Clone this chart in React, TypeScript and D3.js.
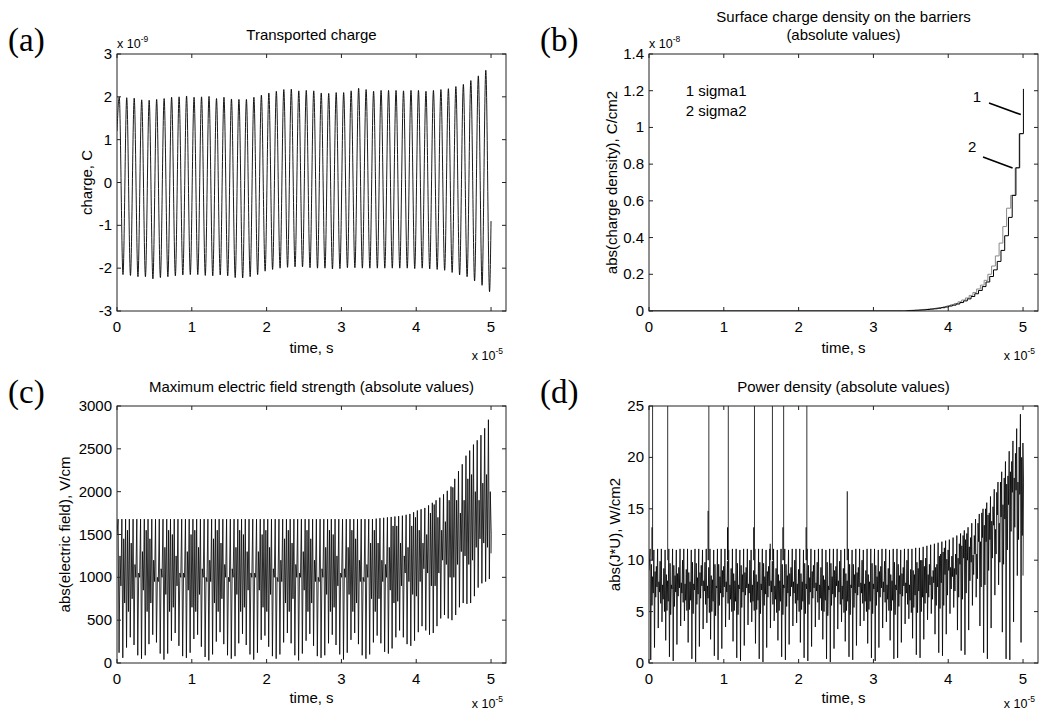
import React from 'react';
import * as d3 from 'd3';

const W = 1042;
const H = 711;
const FONT = '"Liberation Sans", Arial, sans-serif';
const SERIF = '"Liberation Serif", "Times New Roman", serif';

const timeTicks = [0, 1, 2, 3, 4, 5];
const xDomain: [number, number] = [0, 5.2];

// (a) Transported charge (x 1e-9 C): one peak and one trough per 0.1 (x 1e-5 s)
const chargePeriod = 0.1;
const chargePeakPhase = 0.03;
const chargeTroughPhase = 0.08;
const chargeStart = 1.2;
const chargeEnd = -0.9;
const chargePeaks = [
  2.0, 1.98, 1.97, 1.93, 1.92, 1.94, 1.96, 1.99, 2.0, 2.02,
  1.99, 2.0, 2.01, 1.96, 1.99, 1.95, 1.94, 1.94, 1.99, 2.04,
  2.09, 2.13, 2.17, 2.18, 2.14, 2.15, 2.14, 2.09, 2.08, 2.1,
  2.1, 2.14, 2.2, 2.17, 2.13, 2.15, 2.15, 2.15, 2.14, 2.15,
  2.15, 2.13, 2.15, 2.17, 2.19, 2.24, 2.29, 2.38, 2.49, 2.62,
];
const chargeTroughs = [
  -2.15, -2.17, -2.2, -2.2, -2.25, -2.22, -2.2, -2.18, -2.16, -2.15,
  -2.15, -2.17, -2.18, -2.16, -2.18, -2.22, -2.23, -2.2, -2.15, -2.07,
  -2.03, -2.0, -1.98, -1.97, -1.97, -1.99, -2.0, -2.0, -2.02, -2.01,
  -1.99, -1.99, -2.0, -2.0, -2.0, -2.0, -2.0, -2.0, -2.0, -2.01,
  -2.0, -2.02, -2.03, -2.05, -2.1, -2.16, -2.2, -2.3, -2.4, -2.55,
];
const chargeTicks = [-3, -2, -1, 0, 1, 2, 3];

// (b) Surface charge density (x 1e-8 C/cm2), staircases
const sigma1Times = [
  3.4, 3.455, 3.505, 3.555, 3.605, 3.655, 3.705, 3.755, 3.805, 3.855, 3.905,
  3.955, 4.005, 4.055, 4.105, 4.155, 4.205, 4.255, 4.305, 4.355, 4.405, 4.455,
  4.505, 4.555, 4.605, 4.655, 4.705, 4.755, 4.805, 4.855, 4.905, 4.955, 5.005,
];
const sigma1Values = [
  0.0, 0.002, 0.003, 0.004, 0.005, 0.006, 0.008, 0.01, 0.012, 0.015, 0.018,
  0.022, 0.027, 0.032, 0.038, 0.046, 0.055, 0.066, 0.079, 0.094, 0.112, 0.133,
  0.158, 0.188, 0.224, 0.27, 0.33, 0.41, 0.51, 0.63, 0.78, 0.966, 1.21,
];
const sigma2Times = [
  3.4, 3.43, 3.48, 3.53, 3.58, 3.63, 3.68, 3.73, 3.78, 3.83, 3.88,
  3.93, 3.98, 4.03, 4.08, 4.13, 4.18, 4.23, 4.28, 4.33, 4.38, 4.43,
  4.48, 4.53, 4.58, 4.63, 4.68, 4.73, 4.78, 4.835, 4.895, 4.948,
];
const sigma2Values = [
  0.0, 0.002, 0.003, 0.004, 0.005, 0.007, 0.009, 0.011, 0.013, 0.016, 0.019,
  0.023, 0.028, 0.034, 0.041, 0.05, 0.06, 0.071, 0.085, 0.101, 0.12, 0.141,
  0.167, 0.2, 0.245, 0.3, 0.37, 0.46, 0.56, 0.63, 0.78, 0.966,
];
const sigmaEnd = 5.0;
const sigmaTicks = [0, 0.2, 0.4, 0.6, 0.8, 1, 1.2, 1.4];
const sigmaLegend = ['1 sigma1', '2 sigma2'];

// (c) Maximum electric field strength (V/cm): per 0.05 cycle peak, deep trough, second hump, second dip
const fieldPeriod = 0.05;
const fieldPhase = 0.015;
const fieldStart = 1500;
const fieldEnd = 1280;
const fieldPeaks = [
  1680, 1680, 1680, 1680, 1680, 1680, 1680, 1680, 1680, 1680,
  1680, 1680, 1680, 1680, 1680, 1680, 1680, 1680, 1680, 1680,
  1680, 1680, 1680, 1680, 1680, 1680, 1680, 1680, 1680, 1680,
  1680, 1680, 1680, 1680, 1680, 1680, 1680, 1680, 1680, 1680,
  1680, 1680, 1680, 1680, 1680, 1680, 1680, 1680, 1680, 1680,
  1680, 1680, 1680, 1680, 1680, 1680, 1680, 1680, 1680, 1680,
  1680, 1680, 1680, 1680, 1680, 1680, 1680, 1680, 1680, 1685,
  1690, 1695, 1700, 1705, 1710, 1715, 1720, 1730, 1740, 1760,
  1780, 1795, 1810, 1840, 1870, 1900, 1930, 1970, 2010, 2060,
  2150, 2240, 2320, 2420, 2480, 2550, 2600, 2660, 2740, 2840,
];
const fieldTroughs = [
  120, 60, 180, 300, 210, 90, 50, 90, 220, 330,
  240, 110, 40, 110, 260, 350, 200, 80, 60, 120,
  280, 330, 190, 70, 30, 100, 250, 360, 220, 90,
  50, 80, 230, 340, 210, 100, 40, 120, 270, 320,
  190, 80, 50, 100, 240, 350, 230, 90, 30, 110,
  260, 340, 200, 80, 60, 90, 230, 330, 210, 100,
  40, 120, 270, 350, 220, 90, 50, 100, 240, 320,
  230, 130, 110, 170, 300, 380, 300, 220, 200, 260,
  360, 430, 380, 330, 350, 430, 520, 560, 520, 500,
  560, 650, 700, 690, 700, 780, 880, 930, 950, 980,
];
const fieldHumps = [
  1250, 1450, 1550, 1400, 1150, 1050, 1300, 1550, 1450, 1200,
  1000, 1100, 1350, 1550, 1500, 1250, 1050, 1050, 1300, 1500,
  1550, 1350, 1100, 1000, 1200, 1450, 1550, 1400, 1150, 1000,
  1100, 1350, 1550, 1500, 1300, 1050, 1050, 1300, 1500, 1550,
  1350, 1100, 1000, 1200, 1450, 1550, 1400, 1150, 1050, 1300,
  1550, 1450, 1200, 1000, 1100, 1350, 1550, 1500, 1250, 1050,
  1100, 1350, 1550, 1450, 1200, 1000, 1150, 1400, 1550, 1400,
  1200, 1150, 1350, 1600, 1600, 1400, 1250, 1350, 1600, 1700,
  1550, 1400, 1500, 1750, 1850, 1700, 1550, 1650, 1900, 2050,
  1900, 1750, 1900, 2150, 2200, 2000, 1900, 2100, 2200, 2000,
];
const fieldDips = [
  900, 700, 600, 750, 1000, 1000, 850, 600, 700, 950,
  950, 1000, 800, 600, 650, 900, 1000, 1000, 850, 650,
  600, 800, 1000, 950, 950, 700, 600, 750, 1000, 950,
  1000, 800, 600, 650, 850, 1000, 1000, 850, 650, 600,
  800, 1000, 950, 950, 700, 600, 750, 1000, 1000, 850,
  600, 700, 950, 950, 1000, 800, 600, 650, 900, 1000,
  1000, 800, 600, 700, 950, 950, 1000, 750, 600, 750,
  950, 1000, 850, 700, 720, 900, 1050, 950, 800, 780,
  950, 1100, 1050, 900, 900, 1050, 1200, 1150, 1000, 1000,
  1150, 1300, 1250, 1150, 1200, 1350, 1450, 1400, 1350, 1500,
];
const fieldTicks = [0, 500, 1000, 1500, 2000, 2500, 3000];

// (d) Power density (W/cm2): six turning points per 0.05 cycle
const powerPeriod = 0.05;
const powerPhase = 0.015;
const powerStart = 9;
const powerEnd = 8.5;
const powerPeaks = [
  11.1, 11.0, 11.1, 11.1, 11.0, 11.1, 11.1, 11.0, 11.1, 11.1,
  11.1, 11.0, 11.1, 11.1, 11.0, 11.1, 11.1, 11.0, 11.1, 11.1,
  11.1, 11.0, 11.1, 11.1, 11.0, 11.1, 11.1, 11.0, 11.1, 11.1,
  11.1, 11.0, 11.1, 11.1, 11.0, 11.1, 11.1, 11.0, 11.1, 11.1,
  11.1, 11.0, 11.1, 11.1, 11.0, 11.1, 11.1, 11.0, 11.1, 11.1,
  11.1, 11.0, 11.1, 11.1, 11.0, 11.1, 11.1, 11.0, 11.1, 11.1,
  11.1, 11.0, 11.1, 11.1, 11.0, 11.1, 11.1, 11.0, 11.1, 11.1,
  11.1, 11.2, 11.2, 11.3, 11.4, 11.5, 11.6, 11.7, 11.8, 11.9,
  12.0, 12.2, 12.4, 12.6, 12.9, 13.2, 13.6, 14.0, 14.5, 15.0,
  15.6, 16.2, 16.9, 17.6, 18.6, 19.6, 20.6, 21.6, 22.8, 24.2,
];
const powerLows = [
  0.3, 1.5, 3.4, 4.0, 2.2, 0.6, 0.2, 1.8, 3.6, 4.1,
  2.0, 0.4, 0.1, 1.6, 3.3, 3.9, 2.3, 0.7, 0.3, 1.4,
  3.5, 4.2, 2.1, 0.5, 0.2, 1.7, 3.7, 4.0, 1.9, 0.4,
  0.1, 1.5, 3.4, 4.1, 2.2, 0.6, 0.3, 1.8, 3.6, 3.9,
  2.0, 0.5, 0.2, 1.6, 3.5, 4.2, 2.3, 0.4, 0.1, 1.4,
  3.3, 4.0, 2.1, 0.6, 0.3, 1.7, 3.6, 4.1, 1.9, 0.5,
  0.2, 1.5, 3.4, 4.0, 2.2, 0.4, 0.5, 2.0, 3.8, 4.3,
  2.4, 0.8, 0.5, 2.3, 4.2, 4.8, 2.8, 1.0, 0.7, 2.8,
  4.8, 5.4, 3.2, 1.2, 0.8, 3.2, 5.6, 6.4, 3.6, 1.0,
  0.4, 3.4, 6.6, 7.6, 3.0, 0.4, 0.3, 4.0, 8.5, 2.0,
];
const powerMids = [
  9.6, 8.9, 7.9, 7.6, 8.6, 9.7, 9.5, 8.7, 7.8, 7.7,
  8.8, 9.8, 9.7, 8.8, 8.0, 7.5, 8.5, 9.6, 9.6, 9.0,
  7.9, 7.6, 8.7, 9.7, 9.5, 8.8, 7.7, 7.6, 8.6, 9.8,
  9.7, 8.9, 8.0, 7.5, 8.6, 9.6, 9.6, 8.7, 7.9, 7.7,
  8.7, 9.7, 9.5, 8.9, 7.8, 7.6, 8.5, 9.8, 9.7, 9.0,
  8.0, 7.5, 8.7, 9.6, 9.6, 8.8, 7.8, 7.7, 8.6, 9.7,
  9.5, 8.9, 7.9, 7.6, 8.6, 9.8, 9.6, 8.7, 7.8, 7.6,
  9.0, 9.8, 10.0, 9.4, 8.6, 8.4, 9.3, 10.4, 10.8, 10.1,
  9.3, 9.2, 10.2, 11.4, 12.0, 11.3, 10.5, 10.6, 11.8, 13.4,
  14.4, 13.8, 13.0, 13.6, 15.4, 17.4, 18.6, 18.0, 17.6, 20.0,
];
const powerMidLows = [
  5.6, 6.4, 6.9, 6.2, 5.1, 4.7, 5.5, 6.5, 6.8, 6.1,
  5.2, 4.8, 5.7, 6.3, 7.0, 6.3, 5.0, 4.6, 5.6, 6.4,
  6.9, 6.2, 5.1, 4.7, 5.4, 6.6, 6.8, 6.0, 5.2, 4.8,
  5.6, 6.4, 6.9, 6.2, 5.1, 4.7, 5.5, 6.5, 6.8, 6.1,
  5.2, 4.8, 5.7, 6.3, 7.0, 6.3, 5.0, 4.6, 5.6, 6.4,
  6.9, 6.2, 5.1, 4.7, 5.4, 6.6, 6.8, 6.0, 5.2, 4.8,
  5.6, 6.4, 6.9, 6.2, 5.1, 4.7, 5.5, 6.5, 6.8, 6.1,
  5.4, 4.9, 5.0, 5.8, 6.4, 6.2, 5.6, 5.3, 5.6, 6.6,
  7.2, 7.0, 6.4, 6.2, 6.8, 8.0, 8.6, 8.2, 7.4, 7.6,
  9.0, 10.2, 10.6, 9.8, 9.6, 11.0, 12.8, 13.2, 12.0, 12.4,
];
const powerMids2 = [
  8.4, 9.4, 9.9, 9.2, 8.0, 7.6, 8.5, 9.3, 10.0, 9.1,
  7.9, 7.7, 8.3, 9.5, 9.8, 9.3, 8.1, 7.5, 8.4, 9.4,
  9.9, 9.2, 8.0, 7.6, 8.6, 9.3, 10.0, 9.0, 7.9, 7.7,
  8.4, 9.4, 9.9, 9.2, 8.0, 7.6, 8.5, 9.3, 10.0, 9.1,
  7.9, 7.7, 8.3, 9.5, 9.8, 9.3, 8.1, 7.5, 8.4, 9.4,
  9.9, 9.2, 8.0, 7.6, 8.6, 9.3, 10.0, 9.0, 7.9, 7.7,
  8.4, 9.4, 9.9, 9.2, 8.0, 7.6, 8.5, 9.3, 10.0, 9.1,
  8.6, 9.2, 10.0, 10.2, 9.6, 9.0, 9.6, 10.6, 11.2, 11.0,
  10.4, 10.6, 11.6, 12.4, 12.6, 12.2, 12.4, 13.6, 14.6, 15.0,
  14.6, 15.2, 16.6, 17.6, 18.0, 18.2, 19.6, 20.4, 21.0, 21.4,
];
const powerMidLows2 = [
  6.8, 7.4, 5.8, 5.0, 6.0, 7.2, 6.9, 7.3, 5.9, 5.1,
  6.1, 7.1, 6.7, 7.5, 5.7, 4.9, 6.0, 7.3, 6.8, 7.4,
  5.8, 5.0, 6.0, 7.2, 6.9, 7.3, 5.9, 5.1, 6.1, 7.1,
  6.7, 7.5, 5.7, 4.9, 6.0, 7.3, 6.8, 7.4, 5.8, 5.0,
  6.0, 7.2, 6.9, 7.3, 5.9, 5.1, 6.1, 7.1, 6.7, 7.5,
  5.7, 4.9, 6.0, 7.3, 6.8, 7.4, 5.8, 5.0, 6.0, 7.2,
  6.9, 7.3, 5.9, 5.1, 6.1, 7.1, 6.7, 7.5, 5.7, 4.9,
  6.6, 7.0, 6.4, 6.8, 7.6, 7.8, 7.4, 7.8, 8.6, 9.0,
  8.4, 8.6, 9.6, 10.2, 10.0, 9.8, 10.6, 11.8, 12.2, 11.8,
  12.0, 13.4, 14.4, 14.2, 14.0, 15.4, 16.6, 16.8, 16.4, 17.6,
];
const powerSpikeTimes = [0.048, 0.25, 0.8, 1.06, 1.41, 1.65, 1.8, 2.11];
const powerSpikeValues = [60, 60, 60, 60, 60, 60, 60, 60];
const powerShortSpikeTimes = [0.04, 0.79, 1.05, 1.4, 1.62, 1.79, 2.1, 2.65];
const powerShortSpikeValues = [13.2, 14.8, 13.2, 13.2, 11.6, 13.2, 13.2, 16.7];
const powerTicks = [0, 5, 10, 15, 20, 25];

type Pt = [number, number];

function chargeSeries(): Pt[] {
  const pts: Pt[] = [[0, chargeStart]];
  chargePeaks.forEach((p, k) => {
    pts.push([chargePeakPhase + k * chargePeriod, p]);
    pts.push([chargeTroughPhase + k * chargePeriod, chargeTroughs[k]]);
  });
  pts.push([5.0, chargeEnd]);
  return pts;
}
function cycleSeries(start: number, end: number, phase: number, period: number, parts: number[][]): Pt[] {
  const pts: Pt[] = [[0, start]];
  const q = period / parts.length;
  parts[0].forEach((_, k) => {
    const t = phase + k * period;
    parts.forEach((arr, j) => pts.push([t + j * q, arr[k]]));
  });
  pts.push([5.0, end]);
  return pts;
}
function stairs(times: number[], values: number[], end: number): Pt[] {
  const pts: Pt[] = [[0, 0]];
  times.forEach((t, i) => {
    pts.push([t, i === 0 ? 0 : values[i - 1]]);
    pts.push([t, values[i]]);
  });
  pts.push([end, values[values.length - 1]]);
  return pts;
}

type Sc = d3.ScaleLinear<number, number>;
type PanelProps = {
  id: string;
  left: number;
  top: number;
  w: number;
  h: number;
  yDomain: [number, number];
  yTicks: number[];
  title: string[];
  ylabel: string;
  ylabelX: number;
  letter: string;
  yExp?: string;
  xlabelDy: number;
  xExpDy: number;
  draw: (x: Sc, y: Sc) => React.ReactNode;
  overlay?: (x: Sc, y: Sc) => React.ReactNode;
};

function Panel(p: PanelProps) {
  const x = d3.scaleLinear().domain(xDomain).range([p.left, p.left + p.w]);
  const y = d3.scaleLinear().domain(p.yDomain).range([p.top + p.h, p.top]);
  const tl = 4;
  const fmt = (v: number) => String(+v.toFixed(2));
  const bottom = p.top + p.h;
  const right = p.left + p.w;
  const cx = p.left + p.w / 2;
  const titleBase = p.top - 14;
  return (
    <g>
      <defs>
        <clipPath id={`clip-${p.id}`}>
          <rect x={p.left} y={p.top} width={p.w} height={p.h} />
        </clipPath>
      </defs>
      <text x={p.left - 109} y={p.top - 3} fontFamily={SERIF} fontSize={33}>
        {p.letter}
      </text>
      {p.title.map((t, i) => (
        <text
          key={i}
          x={cx}
          y={titleBase - (p.title.length - 1 - i) * 18}
          textAnchor="middle"
          fontFamily={FONT}
          fontSize={15}
        >
          {t}
        </text>
      ))}
      {p.yExp && (
        <text x={p.left} y={p.top - 6} fontFamily={FONT} fontSize={12.5}>
          x 10
          <tspan dy={-6} fontSize={8.5}>
            {p.yExp}
          </tspan>
        </text>
      )}
      <g clipPath={`url(#clip-${p.id})`}>{p.draw(x, y)}</g>
      <rect x={p.left} y={p.top} width={p.w} height={p.h} fill="none" stroke="#222" strokeWidth={1} />
      {timeTicks.map((t) => (
        <g key={`xt${t}`}>
          <line x1={x(t)} x2={x(t)} y1={bottom} y2={bottom - tl} stroke="#222" />
          <line x1={x(t)} x2={x(t)} y1={p.top} y2={p.top + tl} stroke="#222" />
          <text x={x(t)} y={bottom + 21} textAnchor="middle" fontFamily={FONT} fontSize={15}>
            {t}
          </text>
        </g>
      ))}
      {p.yTicks.map((v) => (
        <g key={`yt${v}`}>
          <line x1={p.left} x2={p.left + tl} y1={y(v)} y2={y(v)} stroke="#222" />
          <line x1={right} x2={right - tl} y1={y(v)} y2={y(v)} stroke="#222" />
          <text x={p.left - 5} y={y(v) + 5} textAnchor="end" fontFamily={FONT} fontSize={15}>
            {fmt(v)}
          </text>
        </g>
      ))}
      <text x={cx} y={bottom + p.xlabelDy} textAnchor="middle" fontFamily={FONT} fontSize={15}>
        time, s
      </text>
      <text x={right - 3} y={bottom + p.xExpDy} textAnchor="end" fontFamily={FONT} fontSize={12.5}>
        x 10
        <tspan dy={-6} fontSize={8.5}>
          -5
        </tspan>
      </text>
      <text
        transform={`translate(${p.ylabelX + 5},${p.top + p.h / 2}) rotate(-90)`}
        textAnchor="middle"
        fontFamily={FONT}
        fontSize={15}
      >
        {p.ylabel}
      </text>
      {p.overlay && p.overlay(x, y)}
    </g>
  );
}

export default function App() {
  const lineGen = (curve?: d3.CurveFactory) => (x: Sc, y: Sc, pts: Pt[]) =>
    d3
      .line<Pt>()
      .x((d) => x(d[0]))
      .y((d) => y(d[1]))
      .curve(curve || d3.curveLinear)(pts) || '';
  const lin = lineGen();
  const smooth = lineGen(d3.curveMonotoneX);

  const charge = chargeSeries();
  const field = cycleSeries(fieldStart, fieldEnd, fieldPhase, fieldPeriod, [
    fieldPeaks,
    fieldTroughs,
    fieldHumps,
    fieldDips,
  ]);
  const power = cycleSeries(powerStart, powerEnd, powerPhase, powerPeriod, [
    powerPeaks,
    powerLows,
    powerMids,
    powerMidLows,
    powerMids2,
    powerMidLows2,
  ]);
  const s1 = stairs(sigma1Times, sigma1Values, sigma1Times[sigma1Times.length - 1]);
  const s2 = stairs(sigma2Times, sigma2Values, sigmaEnd);

  return (
    <svg width={W} height={H} style={{ position: 'absolute', left: 0, top: 0, background: '#fff' }}>
      <rect width={W} height={H} fill="#fff" />
      <Panel
        id="a"
        left={117}
        top={54}
        w={389}
        h={257}
        yDomain={[-3, 3]}
        yTicks={chargeTicks}
        title={['Transported charge']}
        ylabel="charge, C"
        ylabelX={87}
        letter="(a)"
        yExp="-9"
        xlabelDy={42}
        xExpDy={49}
        draw={(x, y) => <path d={smooth(x, y, charge)} fill="none" stroke="#000" strokeWidth={0.9} />}
      />
      <Panel
        id="b"
        left={649}
        top={54}
        w={389}
        h={257}
        yDomain={[0, 1.4]}
        yTicks={sigmaTicks}
        title={['Surface charge density on the barriers', '(absolute values)']}
        ylabel="abs(charge density), C/cm2"
        ylabelX={612}
        letter="(b)"
        yExp="-8"
        xlabelDy={42}
        xExpDy={49}
        draw={(x, y) => (
          <g>
            <path d={lin(x, y, s2)} fill="none" stroke="#8a8a8a" strokeWidth={1} />
            <path d={lin(x, y, s1)} fill="none" stroke="#000" strokeWidth={1} />
          </g>
        )}
        overlay={(x, y) => (
          <g fontFamily={FONT} fontSize={15}>
            {sigmaLegend.map((s, i) => (
              <text key={s} x={x(0.49)} y={y(1.2) + 5 + i * 20}>
                {s}
              </text>
            ))}
            <text x={x(4.385)} y={y(1.138)} textAnchor="middle">1</text>
            <line x1={x(4.545)} y1={y(1.133)} x2={x(4.97)} y2={y(1.07)} stroke="#000" strokeWidth={1.6} />
            <text x={x(4.32)} y={y(0.866)} textAnchor="middle">2</text>
            <line x1={x(4.465)} y1={y(0.839)} x2={x(4.86)} y2={y(0.779)} stroke="#000" strokeWidth={1.6} />
          </g>
        )}
      />
      <Panel
        id="c"
        left={117}
        top={406}
        w={389}
        h={257}
        yDomain={[0, 3000]}
        yTicks={fieldTicks}
        title={['Maximum electric field strength (absolute values)']}
        ylabel="abs(electric field), V/cm"
        ylabelX={65}
        letter="(c)"
        xlabelDy={40}
        xExpDy={45}
        draw={(x, y) => <path d={lin(x, y, field)} fill="none" stroke="#000" strokeWidth={0.8} />}
      />
      <Panel
        id="d"
        left={649}
        top={406}
        w={389}
        h={257}
        yDomain={[0, 25]}
        yTicks={powerTicks}
        title={['Power density (absolute values)']}
        ylabel="abs(J*U), W/cm2"
        ylabelX={615}
        letter="(d)"
        xlabelDy={40}
        xExpDy={45}
        draw={(x, y) => (
          <g>
            <path d={lin(x, y, power)} fill="none" stroke="#000" strokeWidth={0.8} />
            {powerSpikeTimes.map((t, i) => (
              <line key={`s${i}`} x1={x(t)} x2={x(t)} y1={y(10)} y2={y(powerSpikeValues[i])} stroke="#333" strokeWidth={1} />
            ))}
            {powerShortSpikeTimes.map((t, i) => (
              <line key={`ss${i}`} x1={x(t)} x2={x(t)} y1={y(10)} y2={y(powerShortSpikeValues[i])} stroke="#000" strokeWidth={1} />
            ))}
          </g>
        )}
      />
    </svg>
  );
}
